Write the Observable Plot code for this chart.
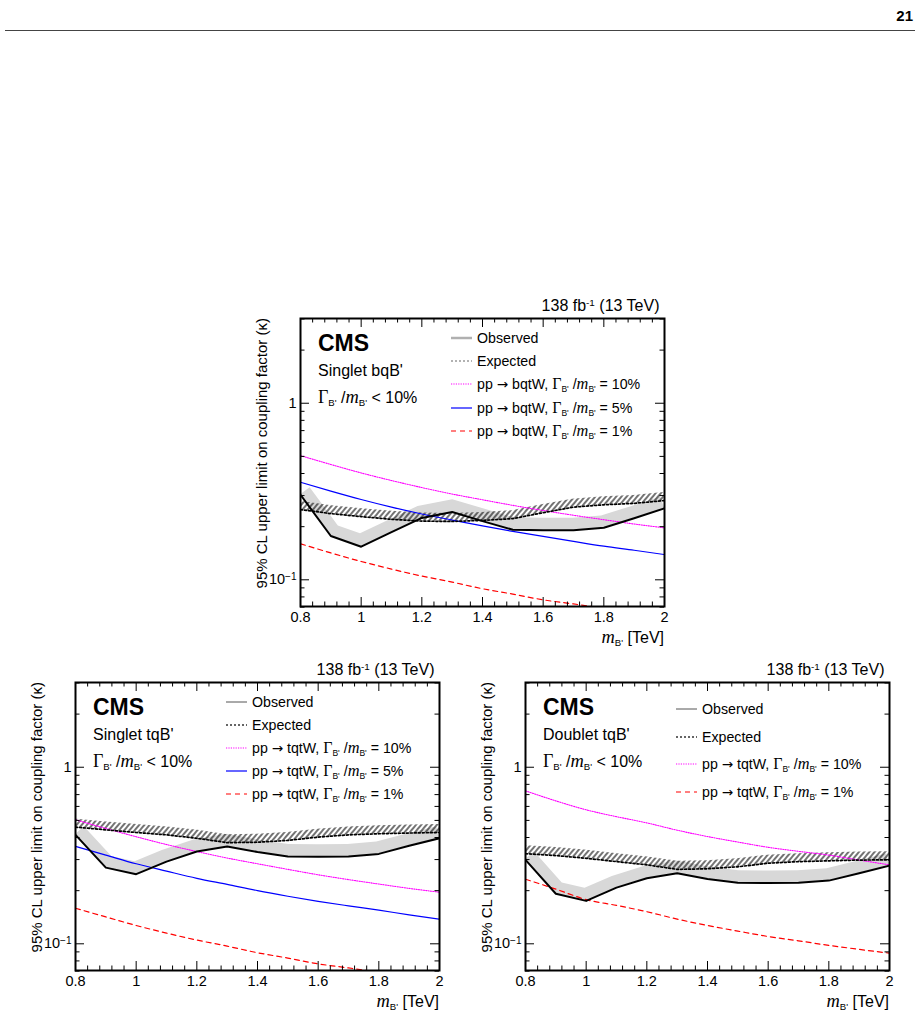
<!DOCTYPE html>
<html>
<head>
<meta charset="utf-8">
<script src="https://cdn.jsdelivr.net/npm/d3@7"></script>
<script src="https://cdn.jsdelivr.net/npm/@observablehq/plot@0.6"></script>
<style>
  body { margin: 0; background: #fff; }
  #page { position: relative; width: 920px; height: 1014px; overflow: hidden;
          font-family: "Liberation Sans", Arial, Helvetica, sans-serif; color: #000; }
  .abs { position: absolute; white-space: nowrap; line-height: 1; }
  .panel { position: absolute; }
  .gr { font-family: "Liberation Serif", "Times New Roman", serif; font-size: 1.12em; }
  .mi { font-family: "Liberation Serif", "Times New Roman", serif; font-style: italic; font-size: 1.15em; }
  .arr { font-family: "DejaVu Sans", sans-serif; font-size: 0.95em; }
  sub { font-size: 0.6em; vertical-align: -0.32em; line-height: 0; }
  sup { font-size: 0.62em; vertical-align: 0.55em; line-height: 0; }
  .leg { position: absolute; display: flex; align-items: center; height: 18px; font-size: 14.2px; white-space: nowrap; }
  .leg svg { margin-right: 5px; flex: none; }
</style>
</head>
<body>
<svg width="0" height="0" style="position:absolute">
  <defs>
    <pattern id="hatch" patternUnits="userSpaceOnUse" width="4" height="4" patternTransform="rotate(40)">
      <line x1="1" y1="0" x2="1" y2="4" stroke="#000" stroke-width="1.1"></line>
    </pattern>
  </defs>
</svg>
<div id="page"></div>
<script>
// ---- limit scan points (B' mass in TeV) ----
const mass = [0.8, 0.9, 1.0, 1.1, 1.2, 1.3, 1.4, 1.5, 1.6, 1.7, 1.8, 1.9, 2.0];

// Singlet bqB'
const bqObserved = [0.303, 0.177, 0.154, 0.186, 0.224, 0.242, 0.215, 0.192, 0.191, 0.191, 0.197, 0.223, 0.254];
const bqExpected = [0.250, 0.237, 0.228, 0.220, 0.215, 0.214, 0.217, 0.222, 0.240, 0.258, 0.266, 0.271, 0.281];
const bqTheory10 = [0.505, 0.450, 0.403, 0.365, 0.333, 0.306, 0.284, 0.264, 0.247, 0.232, 0.219, 0.207, 0.197];
const bqTheory5  = [0.357, 0.318, 0.285, 0.258, 0.236, 0.218, 0.202, 0.188, 0.176, 0.165, 0.155, 0.147, 0.139];
const bqTheory1  = [0.160, 0.142, 0.127, 0.115, 0.105, 0.097, 0.089, 0.083, 0.077, 0.073, 0.069, 0.065, 0.062];

// Singlet tqB'
const stObserved = [0.414, 0.270, 0.248, 0.292, 0.333, 0.356, 0.331, 0.312, 0.311, 0.312, 0.323, 0.359, 0.396];
const stExpected = [0.458, 0.442, 0.427, 0.414, 0.396, 0.374, 0.376, 0.385, 0.402, 0.414, 0.420, 0.424, 0.427];
const stTheory10 = [0.504, 0.450, 0.404, 0.365, 0.333, 0.306, 0.284, 0.264, 0.246, 0.231, 0.218, 0.206, 0.196];
const stTheory5  = [0.356, 0.318, 0.284, 0.258, 0.235, 0.217, 0.200, 0.186, 0.174, 0.164, 0.155, 0.146, 0.138];
const stTheory1  = [0.159, 0.142, 0.127, 0.115, 0.105, 0.097, 0.089, 0.083, 0.077, 0.073, 0.069, 0.065, 0.062];

// Doublet tqB'
const dbObserved = [0.299, 0.192, 0.175, 0.208, 0.235, 0.251, 0.233, 0.222, 0.221, 0.222, 0.228, 0.251, 0.277];
const dbExpected = [0.324, 0.316, 0.305, 0.292, 0.280, 0.264, 0.266, 0.273, 0.286, 0.292, 0.295, 0.298, 0.299];
const dbTheory10 = [0.735, 0.645, 0.574, 0.525, 0.484, 0.440, 0.405, 0.377, 0.352, 0.334, 0.318, 0.298, 0.280];
const dbTheory1  = [0.232, 0.204, 0.178, 0.165, 0.152, 0.138, 0.127, 0.118, 0.110, 0.104, 0.098, 0.093, 0.0885];

// ---- axes ----
const xDomain = [0.8, 2];
const yDomain = [0.0706, 3.02];
const xMajor = [0.8, 1, 1.2, 1.4, 1.6, 1.8, 2];
const yMajor = [0.1, 1];
const yMinor = [0.07, 0.08, 0.09, 0.2, 0.3, 0.4, 0.5, 0.6, 0.7, 0.8, 0.9, 2, 3];
const xMinor = d3.range(0, 31).map(i => 0.8 + i * 0.04).filter(v => Math.abs(v * 5 - Math.round(v * 5)) > 1e-6);

const lumiText = `138 fb<sup>-1</sup> (13 TeV)`;
const yTitle = "95% CL upper limit on coupling factor (κ)";
const widthText = `<span class="gr">Γ</span><sub>B'</sub> /<span class="mi">m</span><sub>B'</sub> &lt; 10%`;
const procText = (proc, pct) =>
  `pp <span class="arr">→</span> ${proc}, <span class="gr">Γ</span><sub>B'</sub> /<span class="mi">m</span><sub>B'</sub> = ${pct}`;

// ---- geometry of one panel svg ----
const W = 440, H = 360, ML = 60, MR = 16, MT = 28, MB = 44;
const FW = W - ML - MR, FH = H - MT - MB;

const page = document.getElementById("page");

function addDiv(html, style, cls = "abs") {
  const el = document.createElement("div");
  el.className = cls;
  el.innerHTML = html;
  Object.assign(el.style, style);
  page.appendChild(el);
  return el;
}

const rowsOf = ys => mass.map((x, i) => ({x, y: ys[i]}));

// Exclusion band drawn on the upper side of a limit curve, offset by w pixels
// perpendicular to the curve, returned in data coordinates.
function exclusionBand(ys, sx, sy, w) {
  const P = mass.map((x, i) => [sx.apply(x), sy.apply(ys[i])]);
  const n = P.length, normals = [];
  for (let i = 0; i < n - 1; i++) {
    const dx = P[i + 1][0] - P[i][0], dy = P[i + 1][1] - P[i][1], L = Math.hypot(dx, dy);
    normals.push([dy / L, -dx / L]);
  }
  return P.map((p, i) => {
    let m;
    if (i === 0) m = normals[0];
    else if (i === n - 1) m = normals[n - 2];
    else {
      const a = normals[i - 1], b = normals[i];
      const s = [a[0] + b[0], a[1] + b[1]], L = Math.hypot(s[0], s[1]);
      const u = [s[0] / L, s[1] / L];
      const k = 1 / Math.max(0.5, u[0] * a[0] + u[1] * a[1]);
      m = [u[0] * k, u[1] * k];
    }
    return {x: mass[i], y: ys[i], ox: sx.invert(p[0] + m[0] * w), oy: sy.invert(p[1] + m[1] * w)};
  });
}

function panel(cfg) {
  const xOpt = {domain: xDomain, range: [ML, ML + FW]};
  const yOpt = {type: "log", domain: yDomain, range: [MT + FH, MT]};
  const sx = Plot.scale({x: xOpt});
  const sy = Plot.scale({y: yOpt});
  const obsBand = exclusionBand(cfg.observed, sx, sy, 12);
  const expBand = exclusionBand(cfg.expected, sx, sy, 8);

  const theoryMarks = cfg.theory.map(t =>
    Plot.line(rowsOf(t.values), {x: "x", y: "y", stroke: t.color, strokeWidth: t.width,
      strokeDasharray: t.dash, curve: "monotone-x", clip: true}));

  const svg = Plot.plot({
    width: W, height: H,
    marginLeft: ML, marginRight: MR, marginTop: MT, marginBottom: MB,
    x: xOpt, y: yOpt,
    style: {fontFamily: '"Liberation Sans", Arial, sans-serif', fontSize: "14px", color: "#000",
            background: "transparent", overflow: "visible"},
    marks: [
      Plot.area(obsBand, {x1: "x", y1: "y", x2: "ox", y2: "oy", fill: "#d8d8d8", clip: true}),
      Plot.area(expBand, {x1: "x", y1: "y", x2: "ox", y2: "oy", fill: "url(#hatch)", clip: true}),
      ...theoryMarks,
      Plot.line(rowsOf(cfg.expected), {x: "x", y: "y", stroke: "#000", strokeWidth: 1.7,
        strokeDasharray: "2,2", clip: true}),
      Plot.line(rowsOf(cfg.observed), {x: "x", y: "y", stroke: "#000", strokeWidth: 2, clip: true}),
      // inward ticks on all four sides
      Plot.tickX(xMajor, {x: d => d, insetTop: FH - 9, stroke: "#000"}),
      Plot.tickX(xMajor, {x: d => d, insetBottom: FH - 9, stroke: "#000"}),
      Plot.tickX(xMinor, {x: d => d, insetTop: FH - 4.5, stroke: "#000"}),
      Plot.tickX(xMinor, {x: d => d, insetBottom: FH - 4.5, stroke: "#000"}),
      Plot.tickY(yMajor, {y: d => d, insetRight: FW - 9, stroke: "#000"}),
      Plot.tickY(yMajor, {y: d => d, insetLeft: FW - 9, stroke: "#000"}),
      Plot.tickY(yMinor, {y: d => d, insetRight: FW - 4.5, stroke: "#000"}),
      Plot.tickY(yMinor, {y: d => d, insetLeft: FW - 4.5, stroke: "#000"}),
      Plot.axisX(xMajor, {anchor: "bottom", tickSize: 0, tickPadding: 5.5, fontSize: 14.5,
        tickFormat: d => String(d), label: null}),
      Plot.axisY(yMajor, {anchor: "left", tickSize: 0, tickPadding: 4, fontSize: 14.5,
        tickFormat: d => (d === 1 ? "1" : "10^-1"), label: null}),
      Plot.frame({stroke: "#000", strokeWidth: 2})
    ]
  });

  // superscript exponent on the 10^-1 tick label
  d3.select(svg).selectAll("text").each(function () {
    const t = d3.select(this);
    if (t.text() === "10^-1") {
      t.text("");
      t.append("tspan").text("10");
      t.append("tspan").attr("dy", "-0.45em").attr("font-size", "10px").text("−1");
    }
  });

  const holder = document.createElement("div");
  holder.className = "panel";
  holder.style.left = (cfg.fl - ML) + "px";
  holder.style.top = (cfg.ft - MT) + "px";
  holder.appendChild(svg);
  page.appendChild(holder);

  const fl = cfg.fl, ft = cfg.ft, fr = fl + FW, fb = ft + FH;

  // texts in and around the frame
  addDiv("CMS", {left: (fl + 18) + "px", top: (ft + 14) + "px", fontSize: "23px", fontWeight: "bold"});
  addDiv(cfg.model, {left: (fl + 18) + "px", top: (ft + 45) + "px", fontSize: "16px"});
  addDiv(widthText, {left: (fl + 18) + "px", top: (ft + 70) + "px", fontSize: "16px"});
  addDiv(lumiText, {right: (920 - fr + 4.5) + "px", top: (ft - 20.5) + "px", fontSize: "16px"});
  addDiv(`<span class="mi">m</span><sub>B'</sub> [TeV]`,
    {right: (920 - fr) + "px", top: (fb + 23.5) + "px", fontSize: "16px", lineHeight: "14px"});
  addDiv(yTitle, {left: (fl - 46.5) + "px", top: (ft + 400) + "px", width: "400px", textAlign: "right",
    fontSize: "15px", transform: "rotate(-90deg)", transformOrigin: "0 0"});

  // legend
  cfg.legend.forEach((e, i) => {
    const cy = ft + cfg.legTop + i * cfg.legStep;
    const dash = e.dash ? ` stroke-dasharray="${e.dash}"` : "";
    const sample = `<svg width="21" height="10"><line x1="0" y1="5" x2="21" y2="5" stroke="${e.color}" stroke-width="${e.width}"${dash}></line></svg>`;
    addDiv(sample + `<span>${e.label}</span>`, {left: (fl + 151) + "px", top: (cy - 9) + "px"}, "leg");
  });
}

// page header
addDiv("21", {right: "7px", top: "8px", fontSize: "15px", fontWeight: "bold"});
addDiv("", {left: "5px", top: "29.5px", width: "910px", height: "1.3px", background: "#444"});

const magenta = {color: "#ff00ff", width: 1.1, dash: "1.2,1.2"};
const blue = {color: "#0000ff", width: 1.2, dash: null};
const red = {color: "#ff0000", width: 1.2, dash: "5,4"};

panel({
  fl: 300, ft: 318, model: "Singlet bqB'",
  observed: bqObserved, expected: bqExpected,
  theory: [{...magenta, values: bqTheory10}, {...blue, values: bqTheory5}, {...red, values: bqTheory1}],
  legTop: 20, legStep: 23.2,
  legend: [
    {label: "Observed", color: "#b0b0b0", width: 2.5},
    {label: "Expected", color: "#999", width: 1.5, dash: "2,2"},
    {label: procText("bqtW", "10%"), ...magenta},
    {label: procText("bqtW", "5%"), ...blue},
    {label: procText("bqtW", "1%"), ...red}
  ]
});

panel({
  fl: 75, ft: 682, model: "Singlet tqB'",
  observed: stObserved, expected: stExpected,
  theory: [{...magenta, values: stTheory10}, {...blue, values: stTheory5}, {...red, values: stTheory1}],
  legTop: 20, legStep: 23,
  legend: [
    {label: "Observed", color: "#555", width: 1},
    {label: "Expected", color: "#333", width: 1.3, dash: "2,2"},
    {label: procText("tqtW", "10%"), ...magenta},
    {label: procText("tqtW", "5%"), ...blue},
    {label: procText("tqtW", "1%"), ...red}
  ]
});

panel({
  fl: 525, ft: 682, model: "Doublet tqB'",
  observed: dbObserved, expected: dbExpected,
  theory: [{...magenta, values: dbTheory10}, {...red, values: dbTheory1}],
  legTop: 27, legStep: 27.7,
  legend: [
    {label: "Observed", color: "#555", width: 1},
    {label: "Expected", color: "#333", width: 1.3, dash: "2,2"},
    {label: procText("tqtW", "10%"), ...magenta},
    {label: procText("tqtW", "1%"), ...red}
  ]
});
</script>
</body>
</html>
